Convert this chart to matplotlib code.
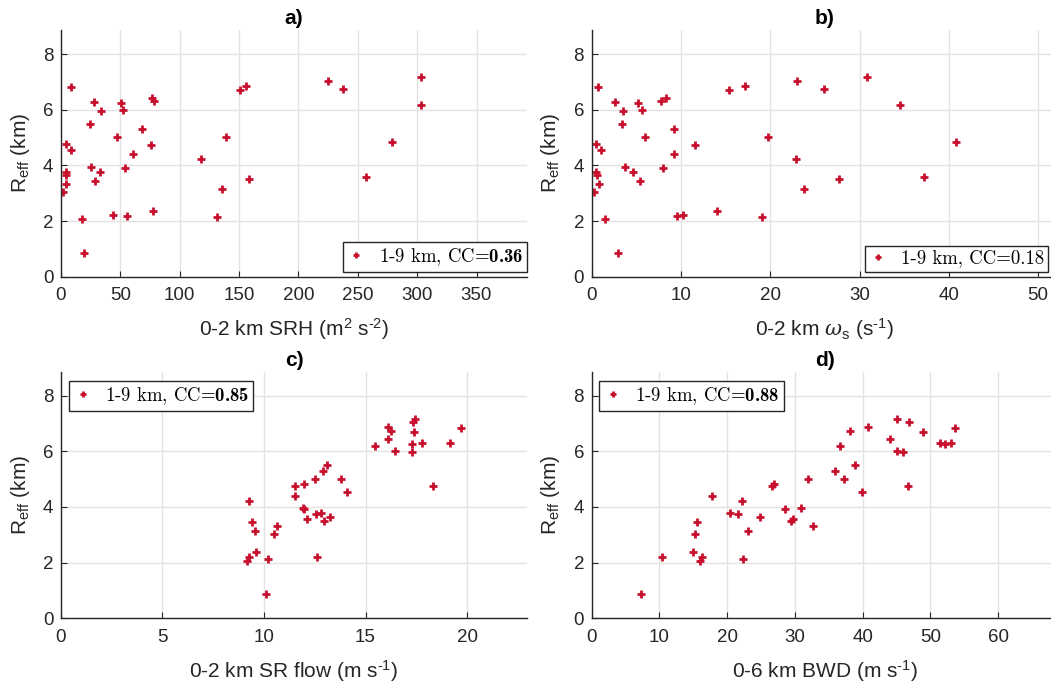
import numpy as np
import matplotlib
matplotlib.use('Agg')
import matplotlib.pyplot as plt

plt.rcParams['font.family'] = ['Liberation Sans', 'DejaVu Sans']
plt.rcParams['mathtext.fontset'] = 'custom'
plt.rcParams['mathtext.rm'] = 'Liberation Sans'
plt.rcParams['mathtext.it'] = 'DejaVu Serif:italic'
plt.rcParams['mathtext.bf'] = 'cmb10'

# effective radius (km), same cases in every panel
reff = [6.83, 6.29, 6.26, 6.01, 6.44, 6.31, 5.96, 5.50, 5.30, 5.02,
        4.76, 4.55, 4.74, 4.40, 3.95, 3.92, 3.77, 3.64, 3.75, 3.44,
        3.33, 3.03, 2.07, 2.21, 2.19, 2.37, 0.86, 4.22, 5.02, 3.14,
        2.14, 6.70, 6.87, 3.50, 7.04, 6.74, 3.58, 4.84, 7.18, 6.19]

srh = [8.2, 27.9, 50.7, 52.1, 76.3, 78.3, 34.1, 24.8, 68.2, 47.3,
       3.9, 8.2, 75.8, 60.3, 25.6, 54.1, 3.9, 4.5, 33.2, 28.5,
       4.2, 1.7, 17.7, 43.9, 55.5, 77.5, 19.4, 117.8, 139.4, 135.9,
       131.6, 151.0, 156.1, 158.0, 225.1, 237.3, 257.3, 278.8, 303.4, 303.1]

omega = [0.74, 2.57, 5.13, 5.58, 8.36, 7.73, 3.46, 3.35, 9.26, 6.02,
         0.48, 1.04, 11.6, 9.22, 3.75, 7.96, 0.52, 0.59, 4.61, 5.39,
         0.78, 0.26, 1.49, 10.26, 9.55, 14.05, 2.97, 22.84, 19.78, 23.82,
         19.05, 15.35, 17.2, 27.67, 23.03, 25.99, 37.25, 40.76, 30.81, 34.55]

srflow = [19.72, 19.16, 17.27, 16.46, 16.10, 17.80, 17.29, 13.09, 12.89, 12.50,
          18.32, 14.10, 11.55, 11.53, 11.91, 11.99, 12.83, 13.24, 12.58, 9.41,
          10.62, 10.49, 9.16, 12.60, 9.26, 9.62, 10.12, 9.24, 13.80, 9.54,
          10.20, 17.37, 16.10, 12.93, 17.33, 16.25, 12.12, 11.99, 17.43, 15.48]

bwd = [53.6, 53.05, 52.2, 45.1, 44.0, 51.4, 45.96, 38.8, 35.9, 31.86,
       46.75, 39.95, 26.6, 17.7, 30.93, 28.58, 20.44, 24.85, 21.62, 15.49,
       32.7, 15.29, 16.03, 16.27, 10.44, 14.95, 7.35, 22.2, 37.3, 23.04,
       22.3, 48.97, 40.8, 29.46, 46.9, 38.2, 29.66, 26.9, 45.0, 36.7]

xdata = [srh, omega, srflow, bwd]
titles = ['a)', 'b)', 'c)', 'd)']
xlabels = ['0-2 km SRH (m$^2$ s$^{\u20102}$)',
           '0-2 km $\\omega_\\mathrm{s}$ (s$^{\u20101}$)',
           '0-2 km SR flow (m s$^{\u20101}$)',
           '0-6 km BWD (m s$^{\u20101}$)']
cc_labels = ['1-9 km, CC=$\\mathbf{0.36}$',
             '1-9 km, CC=0.18',
             '1-9 km, CC=$\\mathbf{0.85}$',
             '1-9 km, CC=$\\mathbf{0.88}$']
xlims = [392.5, 52.2, 22.95, 68.8]
xticks = [np.arange(0, 351, 50), np.arange(0, 51, 10),
          np.arange(0, 21, 5), np.arange(0, 61, 10)]
leg_loc = ['lower right', 'lower right', 'upper left', 'upper left']
leg_anchor = [(0.5014, 0.6022), (0.9971, 0.6022), (0.0657, 0.4426), (0.5702, 0.4426)]

# axes boxes in figure fractions [left, bottom, width, height]
boxes = [[0.058, 0.595, 0.4434, 0.361],
         [0.563, 0.595, 0.4434, 0.361],
         [0.058, 0.095, 0.4434, 0.361],
         [0.563, 0.095, 0.4434, 0.361]]

red = '#c8102e'
dark = '#262626'

fig = plt.figure(figsize=(10.51, 6.83), dpi=100)
for i in range(4):
    ax = fig.add_axes(boxes[i])
    ax.plot(xdata[i], reff, '+', color=red, ms=6, mew=2, label=cc_labels[i])
    ax.set_xlim(0, xlims[i])
    ax.set_ylim(0, 8.87)
    ax.set_xticks(xticks[i])
    ax.set_yticks([0, 2, 4, 6, 8])
    ax.grid(True, color='#e3e3e3', lw=1)
    ax.set_axisbelow(True)
    for s in ['top', 'right']:
        ax.spines[s].set_visible(False)
    for s in ['left', 'bottom']:
        ax.spines[s].set_color(dark)
        ax.spines[s].set_linewidth(1)
    ax.tick_params(direction='in', length=4, labelsize=13.5, colors=dark)
    ax.tick_params(axis='x', pad=7.5)
    ax.tick_params(axis='y', pad=5.5)
    ax.set_xlabel(xlabels[i], fontsize=15, color=dark, labelpad=9)
    ax.set_ylabel('R$_{\\mathrm{eff}}$ (km)', fontsize=15, color=dark, labelpad=8)
    ax.set_title(titles[i], fontsize=15, fontweight='bold', pad=4)
    leg = ax.legend(loc=leg_loc[i], bbox_to_anchor=leg_anchor[i],
                    bbox_transform=fig.transFigure, borderaxespad=0,
                    fancybox=False, framealpha=1, edgecolor=dark,
                    prop={'family': 'cmr10', 'size': 13.5}, handlelength=1.0,
                    handletextpad=0.7, borderpad=0.22, markerscale=0.7)
    leg.get_frame().set_linewidth(1)

plt.savefig('out.png', dpi=100)
